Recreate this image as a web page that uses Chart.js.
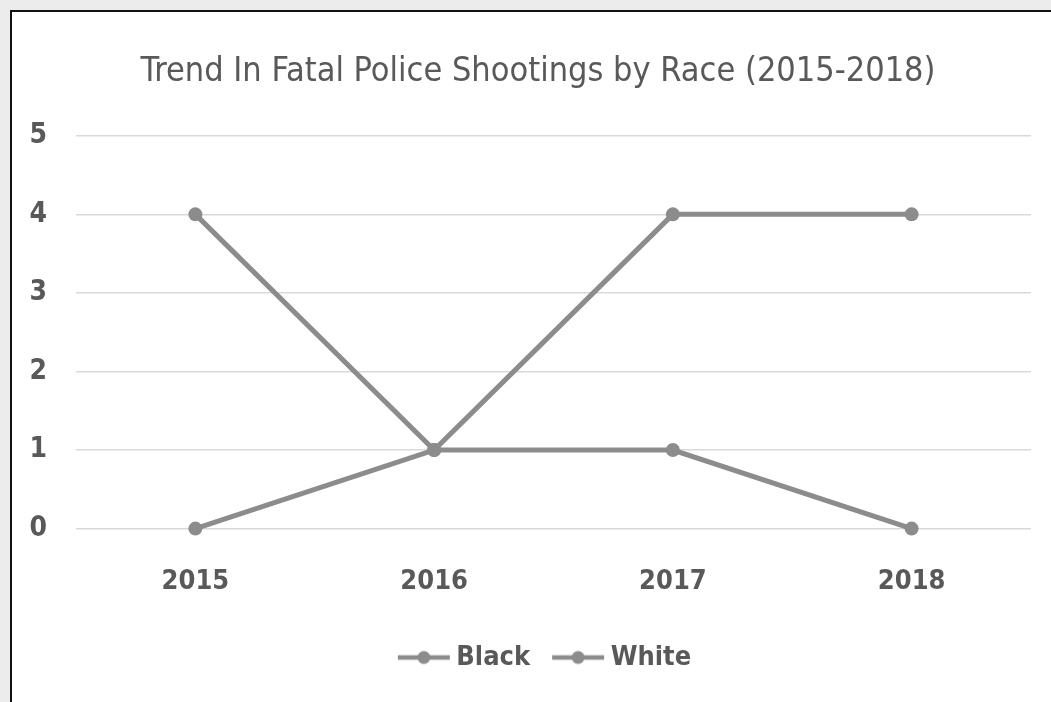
<!DOCTYPE html>
<html>
<head>
<meta charset="utf-8">
<script src="https://cdn.jsdelivr.net/npm/chart.js@4/dist/chart.umd.min.js"></script>
<style>
  html, body { margin: 0; padding: 0; }
  body { width: 1051px; height: 702px; background: #ececec; overflow: hidden; position: relative; }
  #frame {
    position: absolute; left: 10px; top: 10px; width: 1100px; height: 760px;
    background: #ffffff; border-left: 2px solid #111; border-top: 2px solid #111;
  }
  #wrap { position: absolute; left: 0; top: 0; width: 1051px; height: 702px; }
</style>
</head>
<body>
<div id="frame"></div>
<div id="wrap"><canvas id="chart" width="1051" height="702"></canvas></div>
<script>
// Fatal police shootings per year, by race
const years = ['2015', '2016', '2017', '2018'];
const black = [4, 1, 1, 0];
const white = [0, 1, 4, 4];
const yTicks = [0, 1, 2, 3, 4, 5];

const LINE = '#8c8c8c';
const TEXT = '#595959';
const FONT = '"DejaVu Sans Condensed", "Liberation Sans Narrow", sans-serif';

// Legend marker: short line with a dot in the middle, set toward the right of
// a wider transparent canvas so it sits close to its label text
function legendMarker() {
  const c = document.createElement('canvas');
  c.width = 74; c.height = 16;
  const g = c.getContext('2d');
  g.strokeStyle = LINE; g.lineWidth = 4.5;
  g.beginPath(); g.moveTo(21, 8); g.lineTo(73, 8); g.stroke();
  g.fillStyle = LINE;
  g.beginPath(); g.arc(47, 8, 6.5, 0, Math.PI * 2); g.fill();
  return c;
}
const marker = legendMarker();

// Title and legend are centred over the span from the frame's inner margin
// to the plot's right edge rather than over the whole canvas
const centreBlocks = {
  id: 'centreBlocks',
  afterLayout(chart) {
    if (chart.titleBlock) chart.titleBlock.left = 45;
    if (chart.legend) chart.legend.left = 45;
  }
};

const series = (label, data) => ({
  label, data,
  borderColor: LINE, backgroundColor: LINE,
  borderWidth: 5, pointRadius: 7, pointHoverRadius: 7,
  pointBackgroundColor: LINE, pointBorderWidth: 0,
  tension: 0, clip: false
});

new Chart(document.getElementById('chart'), {
  type: 'line',
  data: { labels: years, datasets: [series('Black', black), series('White', white)] },
  plugins: [centreBlocks],
  options: {
    responsive: false,
    animation: false,
    layout: { padding: { left: 0, right: 20, top: 0, bottom: 21 } },
    plugins: {
      tooltip: { enabled: false },
      title: {
        display: true,
        text: 'Trend In Fatal Police Shootings by Race (2015-2018)',
        color: TEXT,
        font: { family: FONT, size: 34, weight: 'normal' },
        padding: { top: 52, bottom: 43 }
      },
      legend: {
        position: 'bottom',
        labels: {
          color: TEXT,
          font: { family: FONT, size: 27, weight: 'bold' },
          usePointStyle: true,
          pointStyleWidth: 58,
          padding: 9,
          generateLabels: (chart) => chart.data.datasets.map((ds, i) => ({
            text: ds.label, fontColor: TEXT, pointStyle: marker,
            strokeStyle: LINE, fillStyle: LINE, lineWidth: 0, datasetIndex: i
          }))
        }
      }
    },
    scales: {
      x: {
        offset: true,
        grid: { display: false, drawTicks: false },
        border: { display: false },
        ticks: { color: TEXT, font: { family: FONT, size: 27, weight: 'bold' }, padding: 37 }
      },
      y: {
        min: 0, max: 5,
        afterBuildTicks: (s) => { s.ticks = yTicks.map(v => ({ value: v })); },
        afterFit: (s) => { s.width = 76; },
        grid: { color: '#d9d9d9', lineWidth: 1.5, drawTicks: false },
        border: { display: false },
        ticks: { color: TEXT, font: { family: FONT, size: 28, weight: 'bold' }, padding: 29 }
      }
    }
  }
});
</script>
</body>
</html>
